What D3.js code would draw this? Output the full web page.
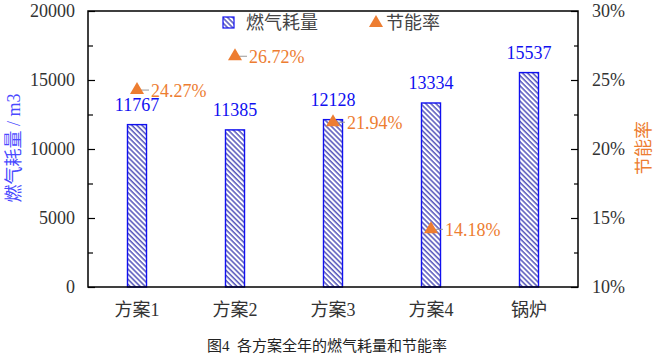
<!DOCTYPE html>
<html>
<head>
<meta charset="utf-8">
<script src="https://cdn.jsdelivr.net/npm/d3@7"></script>
<style>
  body { margin: 0; background: #fff; }
  svg text { font-family: "Times New Roman", "Liberation Serif", "DejaVu Serif", "Noto Sans CJK SC", serif; }
</style>
</head>
<body>
<div id="chart"></div>
<script>
'use strict'

// Data.
const schemes = ['方案1', '方案2', '方案3', '方案4', '锅炉'];
const gasUse = [11767, 11385, 12128, 13334, 15537];
const savingRate = [24.27, 26.72, 21.94, 14.18]; // %, only for 方案1-4
const leftTicks = [0, 5000, 10000, 15000, 20000];
const rightTicks = [10, 15, 20, 25, 30];

const width = 655, height = 355;
const margin = {top: 11, right: 77, bottom: 68, left: 88};
const blue = '#1010f0', orange = '#ed7d31', grey = '#333';

const svg = d3.select('#chart')
    .append('svg')
        .attr('width', width)
        .attr('height', height);

// Hatch pattern for bars.
const defs = svg.append('defs');
defs.append('pattern')
    .attr('id', 'hatch')
    .attr('patternUnits', 'userSpaceOnUse')
    .attr('width', 3.6)
    .attr('height', 3.6)
    .attr('patternTransform', 'rotate(-45)')
  .call(p => p.append('rect').attr('width', 3.6).attr('height', 3.6).attr('fill', '#fff'))
  .call(p => p.append('line')
      .attr('x1', 1).attr('x2', 1).attr('y1', 0).attr('y2', 3.6)
      .attr('stroke', '#3a3ab0').attr('stroke-width', 1.3));

// Scales.
const x = d3.scaleBand()
    .domain(schemes)
    .range([margin.left, width - margin.right])
    .paddingInner(0.806)
    .paddingOuter(0.403);

const y = d3.scaleLinear()
    .domain([0, 20000])
    .range([height - margin.bottom, margin.top]);

const y2 = d3.scaleLinear()
    .domain([10, 30])
    .range([height - margin.bottom, margin.top]);

const bottom = height - margin.bottom;

// Bars.
svg.append('g')
    .selectAll('rect')
    .data(gasUse)
    .join('rect')
        .attr('x', (d, i) => x(schemes[i]))
        .attr('y', d => y(d))
        .attr('width', x.bandwidth())
        .attr('height', d => bottom - y(d))
        .attr('fill', 'url(#hatch)')
        .attr('stroke', blue)
        .attr('stroke-width', 1.4);

svg.append('g')
    .selectAll('text')
    .data(gasUse)
    .join('text')
        .attr('x', (d, i) => x(schemes[i]) + x.bandwidth() / 2)
        .attr('y', d => y(d) - 14)
        .attr('text-anchor', 'middle')
        .attr('font-size', 18)
        .attr('fill', blue)
        .text(d => d);

// Axes.
const leftAxis = d3.axisLeft(y)
    .tickValues(d3.range(0, 20001, 2500))
    .tickSize(-5)
    .tickFormat('');
const rightAxis = d3.axisRight(y2)
    .tickValues(d3.range(10, 30.1, 2.5))
    .tickSize(-4)
    .tickFormat('');

svg.append('g')
    .attr('transform', `translate(${margin.left},0)`)
    .call(leftAxis)
    .call(g => g.select('.domain').remove())
    .call(g => g.selectAll('.tick line')
        .attr('x2', d => leftTicks.includes(d) ? 7 : 5)
        .attr('stroke', '#000').attr('stroke-width', 1.2));

svg.append('g')
    .attr('transform', `translate(${width - margin.right},0)`)
    .call(rightAxis)
    .call(g => g.select('.domain').remove())
    .call(g => g.selectAll('.tick line')
        .attr('x2', d => rightTicks.includes(d) ? -7 : -4)
        .attr('stroke', '#000').attr('stroke-width', 1.2));

// Frame.
svg.append('rect')
    .attr('x', margin.left)
    .attr('y', margin.top)
    .attr('width', width - margin.left - margin.right)
    .attr('height', bottom - margin.top)
    .attr('fill', 'none')
    .attr('stroke', '#000')
    .attr('stroke-width', 1.5);

// Tick labels.
svg.append('g')
    .selectAll('text')
    .data(leftTicks)
    .join('text')
        .attr('x', margin.left - 13)
        .attr('y', d => y(d))
        .attr('dy', '0.35em')
        .attr('text-anchor', 'end')
        .attr('font-size', 18)
        .attr('fill', grey)
        .text(d => d);

svg.append('g')
    .selectAll('text')
    .data(rightTicks)
    .join('text')
        .attr('x', width - margin.right + 14)
        .attr('y', d => y2(d))
        .attr('dy', '0.35em')
        .attr('font-size', 18)
        .attr('fill', grey)
        .text(d => d + '%');

svg.append('g')
    .selectAll('text')
    .data(schemes)
    .join('text')
        .attr('x', d => x(d) + x.bandwidth() / 2)
        .attr('y', bottom + 29)
        .attr('text-anchor', 'middle')
        .attr('font-size', 18)
        .attr('fill', grey)
        .text(d => d);

// Saving rate markers.
const tri = d3.symbol().type(d3.symbolTriangle).size(85);
const marks = svg.append('g')
    .selectAll('g')
    .data(savingRate)
    .join('g')
        .attr('transform', (d, i) => `translate(${x(schemes[i]) + x.bandwidth() / 2},${y2(d)})`);

marks.append('line')
    .attr('x1', 3).attr('x2', 12)
    .attr('stroke', '#999').attr('stroke-width', 1);
marks.append('path')
    .attr('d', tri)
    .attr('fill', orange);
marks.append('text')
    .attr('x', 14)
    .attr('dy', '0.38em')
    .attr('font-size', 18)
    .attr('fill', orange)
    .text(d => d.toFixed(2) + '%');

// Legend.
const legend = svg.append('g');
legend.append('rect')
    .attr('x', 223).attr('y', 17)
    .attr('width', 11).attr('height', 11)
    .attr('fill', 'url(#hatch)')
    .attr('stroke', blue).attr('stroke-width', 1.2);
legend.append('text')
    .attr('x', 246).attr('y', 29)
    .attr('font-size', 18)
    .attr('fill', '#444')
    .text('燃气耗量');
legend.append('path')
    .attr('d', tri)
    .attr('transform', 'translate(376,23)')
    .attr('fill', orange);
legend.append('text')
    .attr('x', 386).attr('y', 29)
    .attr('font-size', 18)
    .attr('fill', '#444')
    .text('节能率');

// Axis titles.
svg.append('text')
    .attr('transform', `translate(20,148) rotate(-90)`)
    .attr('text-anchor', 'middle')
    .attr('font-size', 18)
    .attr('fill', '#4a4aff')
    .text('燃气耗量 / m3');

svg.append('text')
    .attr('transform', `translate(650,148) rotate(-90)`)
    .attr('text-anchor', 'middle')
    .attr('font-size', 18)
    .attr('fill', orange)
    .text('节能率');

// Caption.
svg.append('text')
    .attr('x', 327)
    .attr('y', 351)
    .attr('text-anchor', 'middle')
    .attr('font-size', 15)
    .attr('fill', '#222')
    .text('图4\u00a0\u00a0各方案全年的燃气耗量和节能率');
</script>
</body>
</html>
